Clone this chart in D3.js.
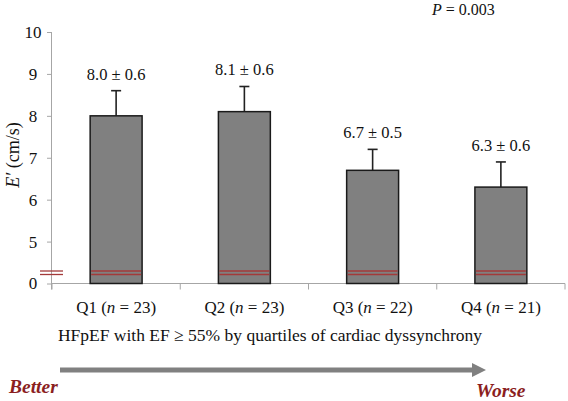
<!DOCTYPE html>
<html>
<head>
<meta charset="utf-8">
<script src="https://cdn.jsdelivr.net/npm/d3@7"></script>
<style>
  html, body { margin: 0; padding: 0; background: #fff; }
  svg text { font-family: "Liberation Serif", "Times New Roman", serif !important; }
</style>
</head>
<body>
<svg id="chart" width="568" height="401"></svg>
<script>
// ---- data ----
const categories = ["Q1", "Q2", "Q3", "Q4"];
const nValues = [23, 23, 22, 21];
const means = [8.0, 8.1, 6.7, 6.3];
const sds = [0.6, 0.6, 0.5, 0.6];
const yTicks = [0, 5, 6, 7, 8, 9, 10];
const pText = "0.003";
const xTitle = "HFpEF with EF \u2265 55% by quartiles of cardiac dyssynchrony";

// ---- layout ----
const svg = d3.select("#chart");
const plotL = 52, plotR = 565, plotT = 32, plotB = 283.5;
const axisColor = "#a6a6a6";
const darkRed = "#8b1f1f";
const serif = "'Liberation Serif', 'Times New Roman', serif";

// broken axis: 0 sits one unit below 5
const unit = (plotB - plotT) / 6;
const y = d3.scaleLinear().domain([0, 5, 10]).range([plotB, plotB - unit, plotT]);
const x = d3.scaleBand().domain(categories).range([plotL, plotR]).paddingInner(0).paddingOuter(0);
const barW = x.bandwidth() * 0.405;

// y axis
const yAxis = d3.axisLeft(y).tickValues(yTicks).tickSize(5).tickPadding(6).tickFormat(d3.format("d"));
const gy = svg.append("g").attr("transform", `translate(${plotL},0)`).call(yAxis)
  .attr("font-family", serif).attr("font-size", 17);
gy.select(".domain").attr("stroke", axisColor).attr("d", `M-0.5,${plotT}V${plotB + 6}`);
gy.selectAll(".tick line").attr("stroke", axisColor);
gy.selectAll(".tick text").attr("fill", "#111").attr("text-anchor", "middle").attr("x", -19);

// x axis
svg.append("line").attr("x1", plotL).attr("x2", plotR).attr("y1", plotB).attr("y2", plotB)
  .attr("stroke", axisColor).attr("stroke-width", 1);
const bounds = categories.map(c => x(c)).concat([plotR]);
svg.selectAll(".xtick").data(bounds).join("line")
  .attr("x1", d => d).attr("x2", d => d).attr("y1", plotB).attr("y2", plotB + 6)
  .attr("stroke", axisColor);

// bars
const rows = categories.map((c, i) => ({ c, n: nValues[i], m: means[i], sd: sds[i] }));
const cx = d => x(d.c) + x.bandwidth() / 2;

// error bars (upper only)
svg.selectAll(".err").data(rows).join("line")
  .attr("x1", cx).attr("x2", cx)
  .attr("y1", d => y(d.m)).attr("y2", d => y(d.m + d.sd))
  .attr("stroke", "#222").attr("stroke-width", 1.6);
svg.selectAll(".cap").data(rows).join("line")
  .attr("x1", d => cx(d) - 5).attr("x2", d => cx(d) + 5)
  .attr("y1", d => y(d.m + d.sd)).attr("y2", d => y(d.m + d.sd))
  .attr("stroke", "#222").attr("stroke-width", 1.6);

svg.selectAll(".bar").data(rows).join("rect")
  .attr("x", d => cx(d) - barW / 2).attr("width", barW)
  .attr("y", d => y(d.m)).attr("height", d => y(0) - y(d.m))
  .attr("fill", "#808080").attr("stroke", "#1a1a1a").attr("stroke-width", 1.5);

// axis-break marks (double red lines)
const breakYs = [y(0) - 12.5, y(0) - 9];
rows.forEach(d => {
  breakYs.forEach(by => {
    svg.append("line").attr("x1", cx(d) - barW / 2 + 1).attr("x2", cx(d) + barW / 2 - 1)
      .attr("y1", by).attr("y2", by).attr("stroke", "#a33a3a").attr("stroke-width", 1.3);
  });
});
breakYs.forEach(by => {
  svg.append("line").attr("x1", plotL - 12).attr("x2", plotL + 11)
    .attr("y1", by).attr("y2", by).attr("stroke", "#a33a3a").attr("stroke-width", 1.3);
});

// value labels
svg.selectAll(".val").data(rows).join("text")
  .attr("x", cx).attr("y", d => y(d.m + d.sd) - 11)
  .attr("text-anchor", "middle").attr("font-family", serif).attr("font-size", 16.5).attr("fill", "#111")
  .text(d => `${d.m.toFixed(1)} \u00b1 ${d.sd.toFixed(1)}`);

// category labels
const cl = svg.selectAll(".cl").data(rows).join("text")
  .attr("x", cx).attr("y", plotB + 29)
  .attr("text-anchor", "middle").attr("font-family", serif).attr("font-size", 17).attr("fill", "#111");
cl.append("tspan").text(d => `${d.c} (`);
cl.append("tspan").attr("font-style", "italic").text("n");
cl.append("tspan").text(d => ` = ${d.n})`);

// x title
svg.append("text").attr("x", 270).attr("y", plotB + 57).attr("text-anchor", "middle")
  .attr("font-family", serif).attr("font-size", 17.5).attr("fill", "#111").text(xTitle);

// y title
const yt = svg.append("text").attr("transform", `translate(19,155) rotate(-90)`)
  .attr("text-anchor", "middle").attr("font-family", serif).attr("font-size", 18).attr("fill", "#111");
yt.append("tspan").attr("font-style", "italic").text("E\u2032");
yt.append("tspan").text(" (cm/s)");

// P value
const pt = svg.append("text").attr("x", 432).attr("y", 15)
  .attr("font-family", serif).attr("font-size", 16).attr("fill", "#111");
pt.append("tspan").attr("font-style", "italic").text("P");
pt.append("tspan").text(` = ${pText}`);

// arrow
svg.append("line").attr("x1", 60).attr("x2", 474).attr("y1", 370).attr("y2", 370)
  .attr("stroke", "#808080").attr("stroke-width", 5);
svg.append("path").attr("d", "M472,363 L486,370 L472,377 Z").attr("fill", "#808080");

svg.append("text").attr("x", 9).attr("y", 393).attr("font-family", serif).attr("font-size", 19.5)
  .attr("font-weight", "bold").attr("font-style", "italic").attr("fill", darkRed).text("Better");
svg.append("text").attr("x", 476).attr("y", 397).attr("font-family", serif).attr("font-size", 19.5)
  .attr("font-weight", "bold").attr("font-style", "italic").attr("fill", darkRed).text("Worse");
</script>
</body>
</html>
